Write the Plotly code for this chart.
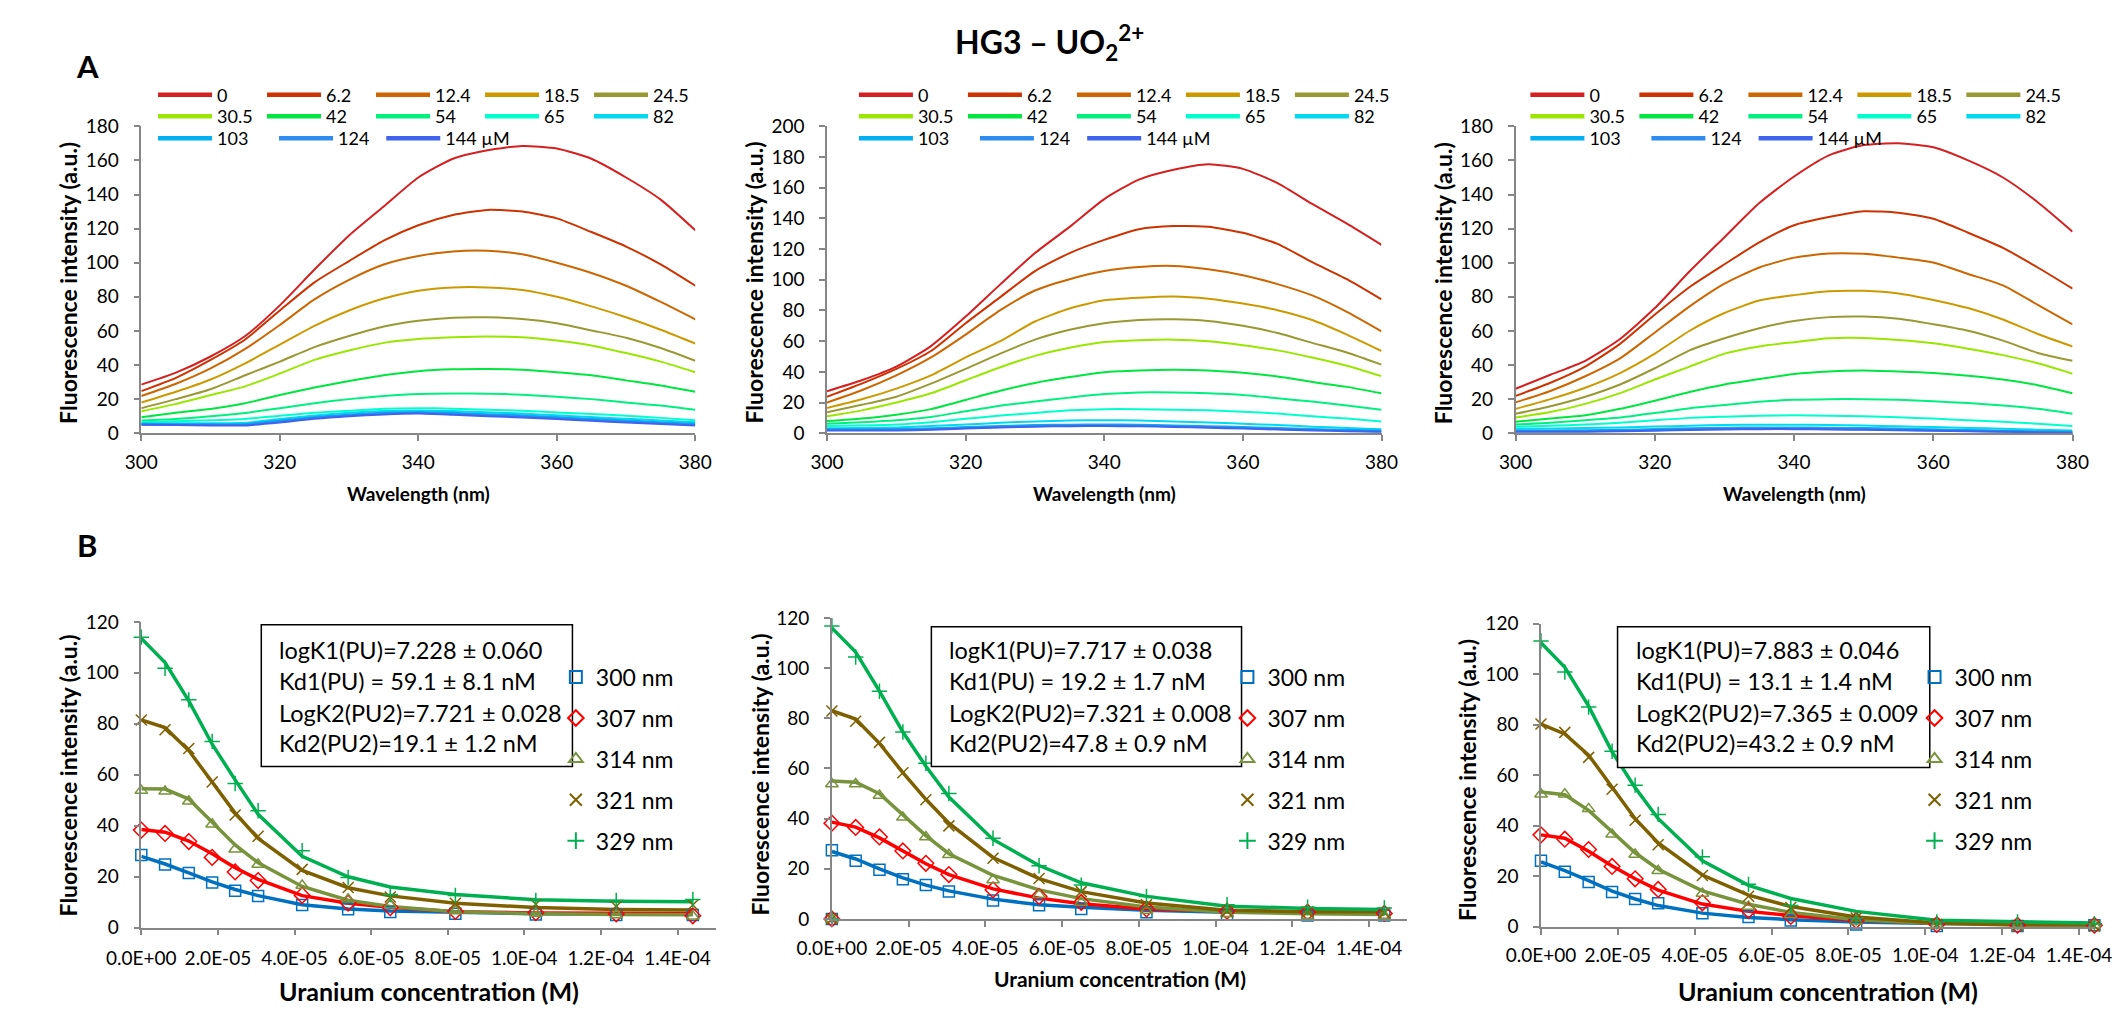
import plotly.graph_objects as go

W, H = 2112, 1014


def px(x):
    return x / W


def py(y):
    return 1 - y / H


FONT = "Lato"

# ---------------- DATA: top row (emission spectra) ----------------
WAVELENGTH_NM = [300, 305, 310, 315, 320, 325, 330, 335, 340, 345, 350, 355, 360, 365, 370, 375, 380]
CONC_LABELS = ["0", "6.2", "12.4", "18.5", "24.5", "30.5", "42", "54", "65", "82", "103", "124", "144 µM"]
SPEC_COLORS = ["#D42020", "#CC3300", "#CC6600", "#CC9900", "#999933", "#99E600", "#00E640",
               "#00F080", "#00FFCC", "#00D9F0", "#00B0F0", "#2E8BF0", "#3F63EE"]

P1_SPECTRA = [
    [28.5, 35.5, 45, 57, 75, 96, 116, 133, 150, 161, 166, 168.5, 167, 161, 150, 137, 119],
    [24.7, 32.5, 43, 55, 72, 88.5, 101, 113, 122, 128, 131, 130, 126, 118, 109.5, 99, 86.5],
    [21.8, 29, 38, 49.5, 63.5, 78.5, 90, 99, 104, 106.6, 107, 105, 100, 94, 86.5, 77, 66.8],
    [18, 24.3, 31.5, 41, 52, 63, 72, 79, 83.6, 85.5, 85.5, 84, 80, 74.4, 68, 60.7, 52.6],
    [14.7, 20, 25.8, 34, 42, 50.5, 57, 62.6, 66, 67.8, 68, 67, 64.5, 60.3, 56, 50, 42.5],
    [12.8, 17.2, 22.4, 27.5, 35, 43, 48.5, 53, 55.3, 56.3, 56.8, 56.3, 54.4, 51.5, 47, 42, 35.8],
    [9.4, 12, 14.2, 17.6, 22.4, 26.8, 30.6, 34, 36.4, 37.5, 37.7, 37.3, 35.8, 34, 31, 28, 24.3],
    [7.5, 8.4, 10, 11.9, 14.7, 17.6, 20, 21.8, 23, 23.3, 23.2, 22.6, 21.4, 20, 18, 16.3, 13.8],
    [6.5, 7, 7.6, 8.4, 10.3, 12, 13.2, 14.4, 14.7, 14.4, 13.8, 13.2, 12.2, 11.3, 10.3, 9, 7.6],
    [5.8, 5.8, 5.8, 6.2, 8.3, 10.4, 12, 13, 13.4, 13, 12.3, 11.5, 10.5, 9.5, 8.5, 7.5, 6.5],
    [5.4, 5.3, 5.2, 5.4, 7.4, 9.5, 11, 12, 12.5, 12, 11.2, 10.5, 9.5, 8.5, 7.5, 6.5, 5.5],
    [5.1, 5.0, 4.9, 5.0, 6.8, 9, 10.5, 11.5, 12, 11.3, 10.6, 9.8, 8.8, 7.8, 6.8, 5.8, 5.0],
    [5.0, 4.8, 4.6, 4.6, 6.3, 8.5, 10, 11, 11.5, 10.8, 10, 9.2, 8.3, 7.3, 6.3, 5.4, 4.6],
]

P2_SPECTRA = [
    [27.4, 34.5, 43.4, 56.8, 76, 97, 117.4, 134.5, 152.6, 165.3, 171.7, 175.3, 172.3, 163, 149.4, 136.6, 122.8],
    [23.8, 32.3, 41.9, 53.6, 71.7, 88.7, 105.7, 117.4, 126, 133, 135, 134.5, 130.6, 123.4, 111.5, 100.4, 87.2],
    [20, 28, 37.7, 49.4, 64.3, 80.2, 93, 100.4, 105.7, 108.3, 109, 106.8, 103, 97.2, 89.8, 79.1, 66.4],
    [16.4, 22.1, 29.1, 37.7, 49.4, 60, 72.8, 81.3, 86.6, 88.3, 89.1, 87.7, 84.5, 80.2, 73.8, 64.3, 53.6],
    [13.6, 18.5, 23.8, 32.3, 41.9, 51.9, 61, 67.4, 71.7, 73.8, 74.3, 73.2, 70, 65.3, 58.9, 52.6, 44.7],
    [11, 14.9, 20, 26, 34.5, 43, 50.4, 55.7, 59.4, 60.6, 61, 60, 57.4, 54, 49.4, 44, 37.2],
    [7.9, 9.6, 12.1, 15.7, 21.7, 27.7, 32.8, 36.6, 39.8, 40.9, 41.3, 40.9, 39.4, 37, 33.4, 30.2, 26],
    [6.2, 7.2, 8.5, 10.6, 14.3, 17.9, 20.6, 23.2, 25.5, 26.6, 26.6, 26, 24.9, 22.8, 20.6, 18.1, 15.3],
    [4.7, 5.1, 5.7, 7.2, 9.4, 11.5, 13.2, 14.9, 15.7, 15.7, 15.3, 14.9, 14, 12.8, 11, 9.6, 7.7],
    [3.2, 3.4, 3.8, 4.7, 5.7, 6.8, 7.7, 8.3, 8.5, 8.3, 7.7, 7, 6.2, 5.3, 4.3, 3.4, 2.6],
    [2.6, 2.6, 2.8, 3.2, 4, 4.7, 5.3, 5.6, 5.7, 5.5, 5.1, 4.6, 4, 3.4, 2.8, 2.2, 1.7],
    [2.2, 2.1, 2.2, 2.6, 3.4, 4.1, 4.7, 5.0, 5.1, 4.9, 4.5, 4.0, 3.4, 2.8, 2.2, 1.6, 1.2],
    [1.8, 1.7, 1.8, 2.2, 3.0, 3.7, 4.3, 4.6, 4.7, 4.5, 4.1, 3.6, 3.0, 2.4, 1.8, 1.3, 0.9],
]

P3_SPECTRA = [
    [26.1, 34.3, 42.5, 55.3, 73.4, 95, 115, 135, 150.6, 163, 169, 170.1, 167.7, 160, 150, 135.5, 118.2],
    [21.9, 29.6, 39.1, 52.4, 69.6, 85.8, 99.1, 111.9, 122, 126.8, 130.2, 129.3, 125.8, 117.6, 108.7, 97.2, 84.8],
    [18.1, 24.8, 33.4, 43.9, 59.1, 74.4, 87.7, 97.2, 103, 105.4, 105.2, 103, 100.1, 93.4, 86.7, 75.3, 63.9],
    [14.3, 20, 26.7, 35.3, 46.7, 60.1, 70.5, 77.8, 81, 83.3, 83.5, 82, 78.2, 73.4, 66.7, 58.2, 50.9],
    [11.4, 15.8, 21.4, 28.6, 38.1, 48.6, 55.7, 61.6, 65.8, 68.1, 68.4, 67.1, 63.9, 60.1, 54.3, 47.1, 42.5],
    [9.2, 12.4, 17.2, 23.5, 31.5, 39.1, 46.7, 50.9, 53.4, 55.7, 55.9, 54.7, 52.8, 49.6, 45.8, 41, 34.9],
    [6.7, 8.6, 10.5, 14.3, 19.1, 24.2, 28.6, 31.8, 34.7, 36.2, 36.8, 36.2, 35.3, 33.7, 31.5, 28.2, 23.5],
    [5.1, 6.1, 7.6, 9.2, 11.8, 14.7, 16.6, 18.5, 19.6, 20, 20, 19.6, 18.7, 17.7, 16.2, 14.3, 11.4],
    [3.8, 4.4, 5.1, 6.1, 7.6, 9, 9.7, 10.3, 10.5, 10.3, 9.9, 9.3, 8.6, 7.6, 6.7, 5.5, 4.2],
    [2.6, 2.8, 3.0, 3.3, 3.9, 4.4, 4.8, 5.0, 5.0, 4.8, 4.5, 4.1, 3.6, 3.1, 2.6, 2.1, 1.6],
    [1.6, 1.6, 1.8, 2.0, 2.5, 2.9, 3.2, 3.4, 3.4, 3.2, 3.0, 2.7, 2.3, 1.9, 1.5, 1.1, 0.8],
    [1.2, 1.1, 1.2, 1.4, 1.9, 2.3, 2.6, 2.8, 2.8, 2.6, 2.3, 2.0, 1.6, 1.3, 1.0, 0.7, 0.5],
    [0.9, 0.8, 0.9, 1.1, 1.5, 1.9, 2.2, 2.4, 2.4, 2.2, 2.0, 1.7, 1.4, 1.1, 0.8, 0.5, 0.3],
]

# ---------------- DATA: bottom row (titrations) ----------------
CONC_UM = [0, 6.2, 12.4, 18.5, 24.5, 30.5, 42, 54, 65, 82, 103, 124, 144]
B2_DATA_CONC_UM = [0, 0, 6.2, 12.4, 18.5, 24.5, 30.5, 42, 54, 65, 82, 103, 124, 144]
B_NAMES = ["300 nm", "307 nm", "314 nm", "321 nm", "329 nm"]
B_COLORS = ["#0070C0", "#FF0000", "#77933C", "#7F6000", "#00B050"]
B_SYMBOLS = ["square-open", "diamond-open", "triangle-up-open", "x-thin-open", "cross-thin-open"]

B1_DATA = [
    [28.5, 24.8, 21.5, 17.8, 14.5, 12.5, 8.9, 7.3, 6.2, 5.5, 5.2, 5.0, 5.0],
    [38.3, 37, 33.8, 27.6, 21.9, 18.5, 12.7, 9.7, 7.9, 6.4, 5.9, 5.4, 4.7],
    [53.8, 53.5, 49.6, 40.6, 30.8, 24.8, 16.6, 11.2, 8.9, 6.6, 5.6, 5.0, 4.5],
    [81.5, 77.7, 70.3, 57.2, 44.2, 35.9, 22.9, 15.8, 12.1, 9.6, 9.2, 8.3, 8.9],
    [114, 101.8, 89.4, 73.1, 56.6, 45.9, 30.2, 19.7, 13, 12.7, 10.7, 10.7, 11.1],
]
B1_FIT = [
    [28, 25, 21.5, 18, 15, 12.6, 9, 7.4, 6.6, 6, 5.5, 5.4, 5.4],
    [38.5, 37.5, 34, 29, 23.5, 19, 12.6, 9.6, 8, 6.3, 5.8, 5.6, 5.6],
    [54.5, 54.4, 50.5, 41.5, 32.5, 25.5, 16.2, 10.8, 8.3, 6.3, 5.5, 5.2, 5.1],
    [81.5, 78.5, 69.5, 57, 45, 35, 22.5, 15.7, 12.5, 9.6, 7.9, 7.2, 7.0],
    [113.5, 104, 89, 72, 58, 44.5, 28, 20, 16, 13, 11, 10.4, 10.2],
]
B2_DATA = [
    [0, 27.4, 23.2, 19.6, 15.8, 13.5, 10.9, 7.4, 5.5, 4.0, 2.7, 1.8, 1.4, 1.4],
    [0, 38.2, 36.5, 32.7, 27.1, 22.2, 17.7, 11.6, 9.0, 6.6, 4.0, 3.1, 2.7, 2.2],
    [0, 53.8, 53.8, 49.2, 40.5, 32.7, 25.6, 15.5, 9.6, 6.6, 3.4, 2.1, 1.4, 1.4],
    [0, 82.9, 78.8, 70.4, 58.3, 47.5, 37.1, 24.2, 16.1, 10.9, 5.7, 3.1, 2.9, 2.5],
    [0, 116.8, 104.4, 90.8, 74.5, 62.1, 50, 32.2, 21.2, 13.5, 9, 5.7, 4.7, 4.4],
]
B2_FIT = [
    [26.9, 23.9, 20, 16.4, 13.5, 11.2, 7.9, 5.7, 4.7, 3.5, 2.7, 2.5, 2.5],
    [38.6, 36.6, 32.3, 27.1, 22, 17.7, 12, 8.3, 6.1, 4, 3.1, 2.9, 2.9],
    [55, 54.5, 49.9, 41.4, 33.2, 26, 17.4, 11.6, 8.1, 4.8, 2.7, 2.1, 1.8],
    [83, 79.7, 70, 58.3, 47.7, 38.2, 24.5, 16.1, 10.9, 6.4, 3.5, 2.9, 2.9],
    [116, 106.4, 90.8, 74.5, 60.9, 48.6, 31.7, 21.3, 14.4, 9, 5.1, 4.2, 3.8],
]
B3_DATA = [
    [26.1, 21.8, 17.7, 13.8, 11, 9.3, 5.4, 3.9, 2.5, 0.9, 0.3, 0.3, 0.6],
    [36.4, 34.7, 30.6, 23.9, 19, 14.8, 9.5, 6.5, 4.1, 2.5, 0.9, 0.6, 0.6],
    [52.5, 52.5, 46.7, 36.6, 28.6, 22.2, 13.2, 8, 4.8, 2.2, 0.9, 0.3, 0.6],
    [80.3, 77, 67.1, 54.5, 42.2, 32.5, 20.3, 12.1, 7.6, 3.5, 0.9, 0.3, 0.3],
    [113.2, 100.9, 87, 69.5, 56.1, 44.5, 27.7, 16.8, 8.4, 3.5, 1.9, 1.9, 1.2],
]
B3_FIT = [
    [25.7, 22.2, 18.3, 14.1, 11, 8.4, 5.4, 3.7, 2.8, 1.9, 1.3, 1.2, 1.2],
    [36.4, 35.1, 29.9, 24.1, 19, 14.5, 9, 6.1, 4.4, 2.6, 1.5, 1.2, 1.2],
    [53.4, 52.3, 46.1, 37.4, 29.3, 22.8, 14.2, 8.9, 5.7, 2.8, 1.3, 0.9, 0.6],
    [80.3, 76.4, 68, 55.1, 42.8, 33.2, 20.5, 12.5, 8, 3.9, 1.5, 0.6, 0.3],
    [112.5, 102.8, 87.4, 69.3, 55.1, 42.8, 26.1, 16.4, 11.2, 6.1, 2.6, 1.9, 1.5],
]

X_TICKVALS_M = [0, 2e-5, 4e-5, 6e-5, 8e-5, 1e-4, 1.2e-4, 1.4e-4]
X_TICKTEXT = ["0.0E+00", "2.0E-05", "4.0E-05", "6.0E-05", "8.0E-05", "1.0E-04", "1.2E-04", "1.4E-04"]

BOX_TEXT_B1 = ["logK1(PU)=7.228 ± 0.060", "Kd1(PU) = 59.1 ± 8.1 nM",
               "LogK2(PU2)=7.721 ± 0.028", "Kd2(PU2)=19.1 ± 1.2 nM"]
BOX_TEXT_B2 = ["logK1(PU)=7.717 ± 0.038", "Kd1(PU) = 19.2 ± 1.7 nM",
               "LogK2(PU2)=7.321 ± 0.008", "Kd2(PU2)=47.8 ± 0.9 nM"]
BOX_TEXT_B3 = ["logK1(PU)=7.883 ± 0.046", "Kd1(PU) = 13.1 ± 1.4 nM",
               "LogK2(PU2)=7.365 ± 0.009", "Kd2(PU2)=43.2 ± 0.9 nM"]

# ---------------- FIGURE ----------------
fig = go.Figure()

TOP_LEGENDS = [["legend", "legend2", "legend3", "legend13"],
               ["legend4", "legend5", "legend6", "legend14"],
               ["legend7", "legend8", "legend9", "legend15"]]

top_panels = [(P1_SPECTRA, "x", "y"), (P2_SPECTRA, "x2", "y2"), (P3_SPECTRA, "x3", "y3")]
for p, (spectra, xa, ya) in enumerate(top_panels):
    for i, ys in enumerate(spectra):
        fig.add_trace(go.Scatter(
            x=WAVELENGTH_NM, y=ys, mode="lines", xaxis=xa, yaxis=ya,
            line=dict(color=SPEC_COLORS[i], width=2, shape="spline", smoothing=0.6),
            showlegend=False, hoverinfo="skip"))
    for i, lab in enumerate(CONC_LABELS):
        slot = 0 if i < 5 else (1 if i < 10 else (2 if i < 12 else 3))
        fig.add_trace(go.Scatter(
            x=[None], y=[None], mode="lines", xaxis=xa, yaxis=ya,
            line=dict(color=SPEC_COLORS[i], width=4.5),
            name=lab, legend=TOP_LEGENDS[p][slot], showlegend=True, hoverinfo="skip"))

conc_m = [c * 1e-6 for c in CONC_UM]
b2_conc_m = [c * 1e-6 for c in B2_DATA_CONC_UM]
bottom_panels = [
    (B1_DATA, B1_FIT, conc_m, "x4", "y4", "legend10", "b1"),
    (B2_DATA, B2_FIT, b2_conc_m, "x5", "y5", "legend11", "b2"),
    (B3_DATA, B3_FIT, conc_m, "x6", "y6", "legend12", "b3"),
]
for data, fit, dconc, xa, ya, lid, tag in bottom_panels:
    for k in range(5):
        fig.add_trace(go.Scatter(
            x=conc_m, y=fit[k], mode="lines", xaxis=xa, yaxis=ya,
            line=dict(color=B_COLORS[k], width=3.5),
            showlegend=False, hoverinfo="skip"))
    for k in range(5):
        fig.add_trace(go.Scatter(
            x=dconc, y=data[k], mode="markers", xaxis=xa, yaxis=ya,
            marker=dict(symbol=B_SYMBOLS[k], size=11 if k != 1 else 12, color=B_COLORS[k],
                        line=dict(color=B_COLORS[k], width=1.5)),
            cliponaxis=False, name=B_NAMES[k], legend=lid, legendgroup=tag + str(k),
            showlegend=True, hoverinfo="skip"))

axis_common = dict(
    showgrid=False, zeroline=False, showline=True, linecolor="#868686", linewidth=1.5,
    ticks="outside", ticklen=6, tickwidth=1.5, tickcolor="#868686",
    tickfont=dict(family=FONT, size=19, color="black"), fixedrange=True,
    ticklabeloverflow="allow",
)
bfont = dict(family=FONT, size=19, color="black")

top_y = [py(431), py(117)]
b3_left = 1544
layout = dict(
    width=W, height=H, margin=dict(l=0, r=0, t=0, b=0),
    paper_bgcolor="white", plot_bgcolor="white", showlegend=True,
    font=dict(family=FONT, color="black"),
    xaxis=dict(axis_common, domain=[px(109), px(677)], range=[300, 380], dtick=20, tick0=300,
               anchor="y", ticklabelstandoff=5),
    yaxis=dict(axis_common, domain=top_y, range=[0, 180], dtick=20, anchor="x", ticklabelstandoff=11),
    xaxis2=dict(axis_common, domain=[px(812), px(1380.5)], range=[300, 380], dtick=20, tick0=300,
                anchor="y2", ticklabelstandoff=5),
    yaxis2=dict(axis_common, domain=top_y, range=[0, 200], dtick=20, anchor="x2", ticklabelstandoff=11),
    xaxis3=dict(axis_common, domain=[px(1518), px(2089)], range=[300, 380], dtick=20, tick0=300,
                anchor="y3", ticklabelstandoff=5),
    yaxis3=dict(axis_common, domain=top_y, range=[0, 180], dtick=20, anchor="x3", ticklabelstandoff=11),
    xaxis4=dict(axis_common, domain=[px(109), px(698)], range=[0, 1.5e-4], tickvals=X_TICKVALS_M,
                ticktext=X_TICKTEXT, anchor="y4", ticklabelstandoff=7, tickfont=bfont),
    yaxis4=dict(axis_common, domain=[py(937), py(624)], range=[0, 120], dtick=20, anchor="x4",
                ticklabelstandoff=11),
    xaxis5=dict(axis_common, domain=[px(817), px(1407)], range=[0, 1.5e-4], tickvals=X_TICKVALS_M,
                ticktext=X_TICKTEXT, anchor="y5", ticklabelstandoff=5, tickfont=bfont),
    yaxis5=dict(axis_common, domain=[py(928), py(620)], range=[0, 120], dtick=20, anchor="x5",
                ticklabelstandoff=11),
    xaxis6=dict(axis_common, domain=[px(b3_left), 1.0], range=[0, (2112 - b3_left) / 78.8 * 2e-5],
                tickvals=X_TICKVALS_M, ticktext=X_TICKTEXT, anchor="y6", ticklabelstandoff=5,
                tickfont=bfont),
    yaxis6=dict(axis_common, domain=[py(936), py(626)], range=[0, 120], dtick=20, anchor="x6",
                ticklabelstandoff=11),
)

leg_top_common = dict(orientation="h", xanchor="left", yanchor="middle", bgcolor="rgba(0,0,0,0)",
                      itemwidth=54, entrywidthmode="pixels", traceorder="normal",
                      font=dict(family=FONT, size=18, color="black"), itemclick=False,
                      itemdoubleclick=False)
top_line_start = [126, 844.6, 1533]
row_y = [85, 107, 129.5]
for p in range(3):
    x0 = top_line_start[p] - 5
    ids = TOP_LEGENDS[p]
    layout[ids[0]] = dict(leg_top_common, x=px(x0), y=py(row_y[0]), entrywidth=40)
    layout[ids[1]] = dict(leg_top_common, x=px(x0), y=py(row_y[1]), entrywidth=40)
    layout[ids[2]] = dict(leg_top_common, x=px(x0), y=py(row_y[2]), entrywidth=52)
    layout[ids[3]] = dict(leg_top_common, x=px(x0 + 234), y=py(row_y[2]), entrywidth=70)

leg_bot_common = dict(orientation="v", xanchor="left", yanchor="middle", bgcolor="rgba(0,0,0,0)",
                      tracegroupgap=8, itemsizing="constant", traceorder="grouped",
                      font=dict(family=FONT, size=23, color="black"), itemclick=False,
                      itemdoubleclick=False)
for lid, xl in [("legend10", 534), ("legend11", 1222.5), ("legend12", 1927)]:
    layout[lid] = dict(leg_bot_common, x=px(xl), y=py(764.5))

fig.update_layout(**layout)

ann = []


def add_text(text, x, y, size, bold=False, angle=0, xanchor="center", yanchor="middle"):
    ann.append(dict(text=("<b>%s</b>" % text) if bold else text, x=px(x), y=py(y), xref="paper",
                    yref="paper", showarrow=False, textangle=angle, xanchor=xanchor,
                    yanchor=yanchor, font=dict(family=FONT, size=size, color="black")))


add_text("HG3 – UO<sub>2</sub><sup>2+</sup>", 1040, 31, 32, bold=True)
add_text("A", 54, 55, 31, bold=True)
add_text("B", 53, 545, 31, bold=True)

for xc in [393, 1096, 1803.5]:
    add_text("Wavelength (nm)", xc, 493, 19, bold=True)
for xc in [34, 737, 1443]:
    add_text("Fluorescence intensity (a.u.)", xc, 277, 23, bold=True, angle=-90)
for xc, yc in [(34, 781), (743.6, 780), (1468, 786)]:
    add_text("Fluorescence intensity (a.u.)", xc, yc, 23, bold=True, angle=-90)
add_text("Uranium concentration (M)", 404, 1002, 25, bold=True)
add_text("Uranium concentration (M)", 1112, 989, 21, bold=True)
add_text("Uranium concentration (M)", 1838, 1002, 25, bold=True)

shapes = []
boxes = [
    (BOX_TEXT_B1, 232, 551, 627, 772, 248),
    (BOX_TEXT_B2, 919, 1237, 629, 772, 935),
    (BOX_TEXT_B3, 1622.5, 1942.6, 629, 773, 1639),
]
box_line_y = [653, 685, 717, 748]
for lines, x0, x1, y0, y1, tx in boxes:
    shapes.append(dict(type="rect", xref="paper", yref="paper", x0=px(x0), x1=px(x1), y0=py(y1),
                       y1=py(y0), line=dict(color="black", width=1.5), fillcolor="white",
                       layer="above"))
    for line, ty in zip(lines, box_line_y):
        add_text(line, tx, ty, 23.5, xanchor="left")

fig.update_layout(annotations=ann, shapes=shapes)

fig.write_html("out.html")
